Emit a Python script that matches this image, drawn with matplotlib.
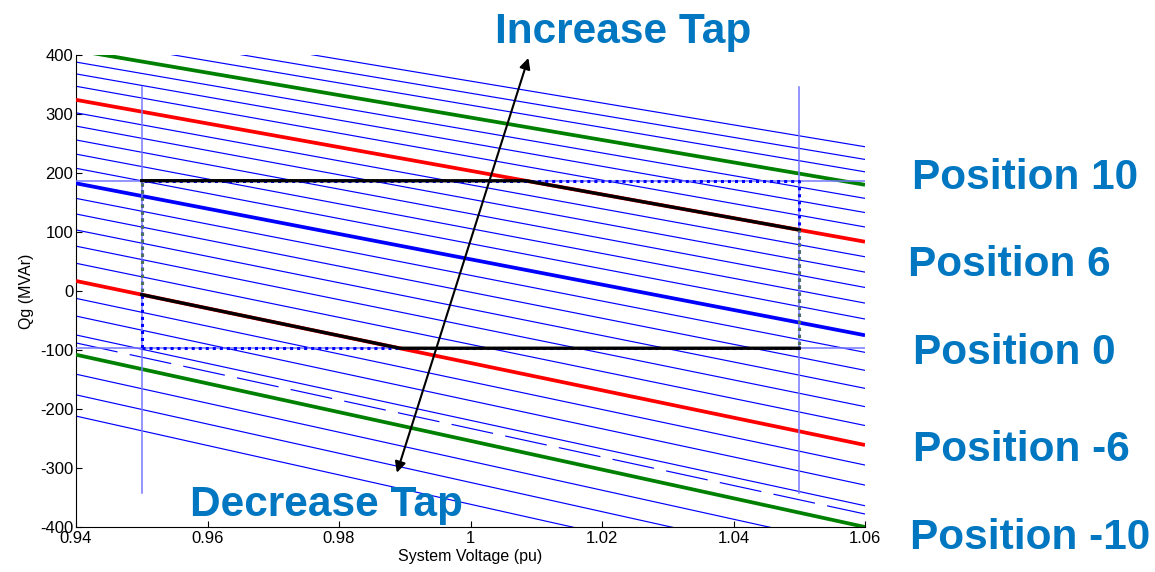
import numpy as np
import matplotlib
matplotlib.use("Agg")
import matplotlib.pyplot as plt

plt.rcParams['font.family'] = ['Liberation Sans', 'DejaVu Sans']
plt.rcParams['axes.unicode_minus'] = False

# ==========================
# Data
# ==========================

tap_positions = [13, 12, 11, 10, 9, 8, 7, 6, 5, 4, 3, 2, 1, 0,
                 -1, -2, -3, -4, -5, -6, -7, -8, -9, -10, -11, -12, -13]

# Qg at V = 0.94 pu and at V = 1.06 pu for every tap line
q_at_low_v = [467, 447.5, 428, 408, 388, 368, 347, 324, 302, 279.5, 256, 232, 208, 182.5,
              157, 130.5, 103.5, 76, 47, 17, -12.5, -42.5, -74.5, -108, -141, -176, -212]
q_at_high_v = [244.5, 223, 202, 180, 157, 133, 108.5, 83.5, 58, 32, 6, -20.5, -47.5, -75,
               -104, -134.5, -165, -196, -228, -261, -295, -329, -364, -400, -436, -473, -511]

v_ends = [0.94, 1.06]

# extra dashed line between position -9 and -10
dashed_q = [-88, -378]

# operating limits
v_min = 0.95
v_max = 1.05
q_min = -97
q_max = 187
v_limit_span = [-342, 345]

# tap change arrow
arrow_low = (0.9888, -308)
arrow_high = (1.0088, 395)

position_labels = ['Position 10', 'Position 6', 'Position 0', 'Position -6', 'Position -10']

# ==========================
# Figure
# ==========================

W, H = 1155, 572
fig = plt.figure(figsize=(W / 100, H / 100), dpi=100)
ax = fig.add_axes([76 / W, 1 - 527 / H, (865 - 76) / W, (527 - 55) / H])

thick = {10: 'green', 6: 'red', 0: 'blue', -6: 'red', -10: 'green'}

for pos, qa, qb in zip(tap_positions, q_at_low_v, q_at_high_v):
    if pos in thick:
        continue
    ax.plot(v_ends, [qa, qb], color='blue', lw=0.85, zorder=2)

ax.plot(v_ends, dashed_q, color='blue', lw=0.85, zorder=2,
        linestyle=(0, (36, 10.5)))

for pos, qa, qb in zip(tap_positions, q_at_low_v, q_at_high_v):
    if pos in thick:
        ax.plot(v_ends, [qa, qb], color=thick[pos], lw=2.7, zorder=3,
                solid_capstyle='butt')

# ==========================
# Limits
# ==========================

light = '#7777ff'
ax.plot([v_min, v_min], v_limit_span, color=light, lw=1.1, zorder=4)
ax.plot([v_max, v_max], v_limit_span, color=light, lw=1.1, zorder=4)
ax.plot(v_ends, [q_max, q_max], color=light, lw=1.1, zorder=4)
ax.plot(v_ends, [q_min, q_min], color=light, lw=1.1, zorder=4)

ax.plot([v_min, v_max, v_max, v_min, v_min],
        [q_min, q_min, q_max, q_max, q_min],
        color='blue', lw=2.2, linestyle=(0, (1, 1.3)), zorder=5)

# feasible region boundary
i_up = tap_positions.index(6)
i_dn = tap_positions.index(-6)
vv = np.linspace(v_min, v_max, 2001)
q_up = np.interp(vv, v_ends, [q_at_low_v[i_up], q_at_high_v[i_up]])
q_dn = np.interp(vv, v_ends, [q_at_low_v[i_dn], q_at_high_v[i_dn]])
top = np.minimum(q_max, q_up)
bottom = np.maximum(q_min, q_dn)

ax.plot(vv, top, color='black', lw=2.4, zorder=6)
ax.plot(vv, bottom, color='black', lw=2.4, zorder=6)
ax.plot([v_min, v_min], [bottom[0], top[0]], color='#4d7358', lw=2.2,
        linestyle=(1.15, (1, 1.3)), zorder=6)
ax.plot([v_max, v_max], [bottom[-1], top[-1]], color='#4d7358', lw=2.2,
        linestyle=(1.15, (1, 1.3)), zorder=6)

ax.annotate('', xy=arrow_high, xytext=arrow_low,
            arrowprops=dict(arrowstyle='<|-|>', color='black', lw=1.5,
                            mutation_scale=16, shrinkA=0, shrinkB=0),
            zorder=7)

# ==========================
# Axes
# ==========================

ax.set_xlim(0.94, 1.06)
ax.set_ylim(-400, 400)
ax.set_xticks([0.94, 0.96, 0.98, 1.0, 1.02, 1.04, 1.06])
ax.set_xticklabels(['0.94', '0.96', '0.98', '1', '1.02', '1.04', '1.06'])
ax.set_yticks(np.arange(-400, 401, 100))
ax.tick_params(direction='in', length=4.5, labelsize=12, pad=3)
ax.tick_params(axis='y', pad=2)
ax.spines['top'].set_visible(False)
ax.spines['right'].set_visible(False)
ax.set_xlabel('System Voltage (pu)', fontsize=11.5, labelpad=2)
ax.set_ylabel('Qg (MVAr)', fontsize=11.5, labelpad=4)

# ==========================
# Annotations
# ==========================

blue_txt = '#0077C0'
fig.text(623 / W, 1 - 43 / H, 'Increase Tap', color=blue_txt, fontsize=30.5,
         fontweight='bold', ha='center', va='baseline')
fig.text(326 / W, 1 - 516 / H, 'Decrease Tap', color=blue_txt, fontsize=30.5,
         fontweight='bold', ha='center', va='baseline')

label_base = [189, 276, 364, 461, 549]
label_left = [912, 908, 913, 913, 910]
for txt, yb, xl in zip(position_labels, label_base, label_left):
    fig.text(xl / W, 1 - yb / H, txt, color=blue_txt, fontsize=30.5,
             fontweight='bold', ha='left', va='baseline')

plt.savefig("out.png", dpi=100)
plt.close()
